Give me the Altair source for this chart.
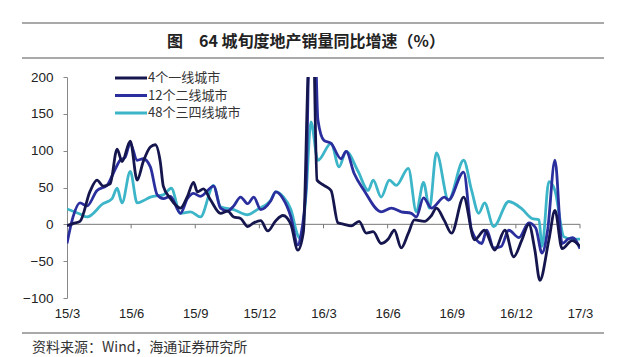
import altair as alt
import pandas as pd

# ---- data (time in months since 2015-03, values in %) ----
names = ["4个一线城市", "12个二线城市", "48个三四线城市"]
colors = ["#16164e", "#2b2f9e", "#3db5c8"]

navy_t = [0.19, 0.47, 0.79, 1.26, 1.58, 1.86, 2.19, 2.51, 2.74, 3.12,
          3.44, 3.72, 4.05, 4.28, 4.51, 4.65, 4.98, 5.44, 5.77, 6.05,
          6.23, 6.51, 6.84, 7.30, 7.63, 7.91, 8.23, 8.56, 8.84, 9.16,
          9.49, 9.86, 10.19, 10.56, 10.88, 11.14, 11.35, 11.56, 11.77, 12.09,
          12.42, 12.74, 13.02, 13.35, 13.72, 14.05, 14.37, 14.74, 15.07, 15.35,
          15.67, 16.00, 16.28, 16.74, 17.07, 17.30, 17.67, 18.00, 18.56, 19.07,
          19.53, 20.00, 20.47, 20.88, 21.26, 21.58, 21.86, 22.09, 22.51, 22.79,
          23.12, 23.58, 23.95]
navy_v = [-2, 1, 4, 45, 60, 52, 55, 102, 85, 113,
          60, 85, 105, 108, 85, 52, 35, 22, 38, 57,
          44, 48, 33, 15, 18, 10, 8, -3, 2, 5,
          -9, 5, 12, 0, -35, -10, 200, 300, 60, 53,
          46, 2, 0, -2, 4, -12, -10, -26, -20, -8,
          -32, -12, 6, 4, 12, 22, 5, -12, 37, -21,
          -8, -35, -8, -44, -21, 0, -35, -76, -21, 19,
          -33, -22, -30]

blue_t = [0.19, 0.47, 0.79, 1.12, 1.58, 2.05, 2.33, 2.65, 2.88, 3.12,
          3.44, 3.72, 4.05, 4.37, 4.65, 4.98, 5.44, 5.77, 6.05, 6.37,
          6.98, 7.30, 7.63, 7.91, 8.23, 8.56, 8.84, 9.16, 9.63, 9.86,
          10.19, 10.56, 10.88, 11.02, 11.26, 11.42, 11.63, 11.81, 12.09, 12.42,
          12.88, 13.12, 13.49, 13.95, 14.74, 15.21, 15.67, 16.14, 16.37, 16.70,
          17.07, 17.67, 17.86, 18.56, 18.93, 19.40, 19.63, 19.95, 20.30, 20.65,
          21.12, 21.58, 21.90, 22.19, 22.45, 22.79, 23.12, 23.40, 23.60, 23.95]
blue_v = [-26, 10, 29, 25, 46, 53, 69, 87, 91, 110,
          87, 89, 78, 40, 35, 38, 15, 35, 42, 38,
          52, 22, 18, 25, 37, 28, 37, 20, 32, 44,
          35, 10, -28, -15, 50, 260, 300, 142, 114, 110,
          89, 99, 69, 46, 17, 22, 17, 15, 10, 36,
          22, 37, 33, 71, -8, -26, -8, -32, -30, -8,
          -18, 2, -5, -39, -8, 87, -26, -20, -18, -33]

cyan_t = [0.19, 0.79, 1.12, 1.86, 2.28, 2.51, 2.74, 3.12, 3.44, 3.72,
          4.05, 4.65, 5.02, 5.44, 5.91, 6.37, 6.98, 7.30, 7.91, 8.56,
          9.00, 9.63, 9.86, 10.19, 10.56, 10.88, 11.02, 11.26, 11.49, 11.81,
          12.42, 12.79, 13.12, 13.67, 14.14, 14.37, 14.74, 15.12, 15.44, 16.00,
          16.37, 16.70, 16.98, 17.30, 17.86, 18.56, 18.93, 19.26, 19.53, 19.95,
          20.65, 21.26, 21.72, 22.05, 22.19, 22.51, 22.79, 23.21, 23.58, 23.95]
cyan_v = [21, 14, 10, 28, 35, 49, 29, 72, 29, 32,
          37, 40, 49, 15, 17, 10, 53, 24, 20, 13,
          20, 33, 44, 38, 20, -15, -20, 40, 139, 87,
          110, 78, 99, 72, 46, 60, 37, 60, 53, 76,
          17, 57, 22, 97, 33, 87, 46, 15, 29, -3,
          31, 21, 8, 6, -30, 58, 46, -17, -20, -20]

tick_pos = [0.19, 3.16, 6.13, 9.10, 12.07, 15.04, 18.01, 20.98, 23.95]
tick_labels = ["15/3", "15/6", "15/9", "15/12", "16/3", "16/6", "16/9", "16/12", "17/3"]
y_ticks = [-100, -50, 0, 50, 100, 150, 200]

title_text = "图　64 城旬度地产销量同比增速（%）"
source_text = "资料来源：Wind，海通证券研究所"

# ---- tables ----
df = pd.concat([
    pd.DataFrame({"t": navy_t, "v": navy_v, "s": names[0]}),
    pd.DataFrame({"t": blue_t, "v": blue_v, "s": names[1]}),
    pd.DataFrame({"t": cyan_t, "v": cyan_v, "s": names[2]}),
])
ticks_df = pd.DataFrame({"t": tick_pos[1:]})
one = pd.DataFrame({"a": [0]})

label_expr = ("[" + ",".join(f"'{l}'" for l in tick_labels) + "][indexof(["
              + ",".join(str(p) for p in tick_pos) + "], datum.value)]")

xscale = alt.Scale(domain=[tick_pos[0], tick_pos[-1]], nice=False, zero=False)
yscale = alt.Scale(domain=[-100, 200], nice=False)
xaxis = alt.Axis(values=tick_pos, labelExpr=label_expr, title=None, domain=False,
                 ticks=False, grid=False, labelPadding=9, labelFontSize=13,
                 labelFont="Liberation Sans", labelColor="#222", labelFlush=False,
                 labelOverlap=False)
yaxis = alt.Axis(values=y_ticks, title=None, grid=False, domainColor="#888",
                 tickColor="#888", tickSize=4, labelPadding=10, labelFontSize=13.5,
                 labelFont="Liberation Sans", labelColor="#222", labelOverlap=False,
                 labelFlush=False)

color = alt.Color("s:N", scale=alt.Scale(domain=names, range=colors), legend=None)

def series_layer(name):
    return alt.Chart(df).transform_filter(alt.datum.s == name).mark_line(
        interpolate="monotone", strokeWidth=2.8, clip=True
    ).encode(
        x=alt.X("t:Q", scale=xscale, axis=xaxis),
        y=alt.Y("v:Q", scale=yscale, axis=yaxis),
        color=color,
    )

zero_rule = alt.Chart(one).mark_rule(color="#777", strokeWidth=1).encode(
    y=alt.datum(0, scale=yscale, axis=yaxis))
zero_ticks = alt.Chart(ticks_df).mark_rule(color="#777", strokeWidth=1, y2Offset=4).encode(
    x=alt.X("t:Q", scale=xscale, axis=xaxis),
    y=alt.datum(0, scale=yscale, axis=yaxis), y2=alt.datum(0))

# ---- legend (drawn by hand, top-left inside plot) ----
legend_layers = []
for i, (nm, col) in enumerate(zip(names, colors)):
    yy = 1 + i * 17.5
    legend_layers.append(alt.Chart(one).mark_rule(color=col, strokeWidth=3).encode(
        x=alt.value(48), x2=alt.value(80), y=alt.value(yy)))
    legend_layers.append(alt.Chart(one).mark_text(
        font="Noto Sans CJK SC", fontSize=13, color="#333", align="left",
        baseline="middle").encode(x=alt.value(81), y=alt.value(yy), text=alt.value(nm)))

deco_font = "Noto Sans CJK SC"
rule_top = alt.Chart(one).mark_rule(color="#555", strokeWidth=1.2).encode(
    x=alt.value(-45), x2=alt.value(537), y=alt.value(-54))
rule_mid = alt.Chart(one).mark_rule(color="#555", strokeWidth=1.2).encode(
    x=alt.value(-45), x2=alt.value(537), y=alt.value(-19))
rule_bot = alt.Chart(one).mark_rule(color="#555", strokeWidth=1.2).encode(
    x=alt.value(-45), x2=alt.value(537), y=alt.value(256))
title = alt.Chart(one).mark_text(font=deco_font, fontSize=16, fontWeight="bold",
                                 color="#222", align="center", baseline="middle").encode(
    x=alt.value(239), y=alt.value(-35), text=alt.value(title_text))
source = alt.Chart(one).mark_text(font=deco_font, fontSize=14, color="#333",
                                  align="left", baseline="middle").encode(
    x=alt.value(-35), y=alt.value(271), text=alt.value(source_text))

chart = alt.layer(
    zero_rule, zero_ticks,
    series_layer(names[2]), series_layer(names[1]), series_layer(names[0]),
    *legend_layers,
    rule_top, rule_mid, rule_bot, title, source,
).properties(
    width=513, height=221, autosize="none",
    padding={"left": 67, "top": 77, "right": 42, "bottom": 59},
    background="white",
).configure_view(stroke=None)

chart.save("out.html", embed_options={"renderer": "svg", "actions": False})
